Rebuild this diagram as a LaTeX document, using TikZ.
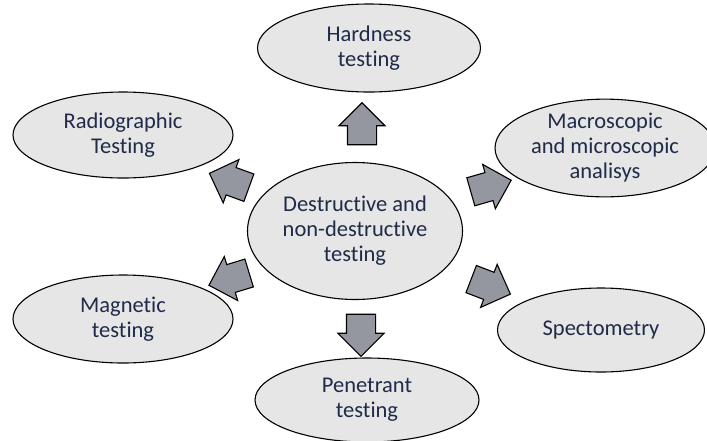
\documentclass[tikz,border=0pt]{standalone}
\usepackage{fontspec}
\setmainfont{Carlito}[Ligatures=NoCommon]
\usepackage{xcolor}
\usepackage{tikz}
\usetikzlibrary{positioning,shapes.geometric,shapes.arrows}
\definecolor{textnavy}{HTML}{1F2B48}
\definecolor{bubblegray}{HTML}{E6E6E6}
\definecolor{arrowgray}{HTML}{9497A0}

\begin{document}
\begin{tikzpicture}[x=1pt,y=-1pt,
    bubble/.style={ellipse, draw=black, line width=1.1pt, fill=bubblegray, text=textnavy, align=center, inner sep=0pt, font=\fontsize{22.5}{25}\selectfont},
    blockarrow/.style={single arrow, draw=black, line width=1.1pt, fill=arrowgray, inner xsep=0pt, inner ysep=14pt, minimum height=42pt, single arrow head extend=8.5pt, single arrow head indent=0pt}]
    \useasboundingbox (0,0) rectangle (707,440);
    \node(center) [bubble, minimum width=215pt, minimum height=137pt] at (355,231) {Destructive and\\non-destructive\\testing};
    \node(hardness) [bubble, minimum width=223pt, minimum height=88pt] at (369,48) {Hardness\\testing};
    \node(radio) [bubble, minimum width=220pt, minimum height=86pt] at (123,135) {Radiographic\\Testing};
    \node(macro) [bubble, minimum width=220pt, minimum height=89pt] at (605,148) {Macroscopic\\and microscopic\\analisys};
    \node(magnetic) [bubble, minimum width=220pt, minimum height=88pt] at (123,319) {Magnetic\\testing};
    \node(spectro) [bubble, minimum width=207pt, minimum height=84pt] at (601,330) {Spectometry};
    \node(penetrant) [bubble, minimum width=224pt, minimum height=84pt] at (367,400) {Penetrant\\testing};

    \node(toHardness) [blockarrow, rotate=90] at (362,131) {};
    \node(toRadio) [blockarrow, rotate=160] at (236,183) {};
    \node(toMacro) [blockarrow, rotate=16] at (484,188) {};
    \node(toMagnetic) [blockarrow, rotate=197] at (236,277) {};
    \node(toSpectro) [blockarrow, rotate=-21] at (484,284) {};
    \node(toPenetrant) [blockarrow, rotate=-90] at (361,328) {};
\end{tikzpicture}
\end{document}
